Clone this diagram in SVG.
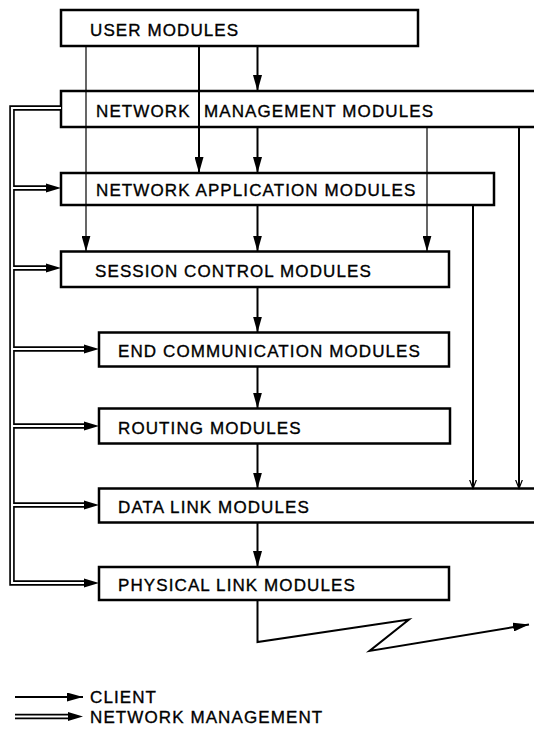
<svg xmlns="http://www.w3.org/2000/svg" width="534" height="729" viewBox="0 0 534 729">
  <style>
    .box { fill: #fff; stroke: #000; stroke-width: 2.5; }
    .lbl { font-family: "Liberation Sans", Arial, sans-serif; font-size: 17px; letter-spacing: 1.1px; fill: #000; stroke: #000; stroke-width: 0.35; }
    .cl { fill: none; stroke: #000; stroke-width: 2; }
    .thin { fill: none; stroke: #000; stroke-width: 1.2; }
    .nmk { fill: none; stroke: #000; stroke-width: 5.5; }
    .nmw { fill: none; stroke: #fff; stroke-width: 2.2; }
  </style>
  <defs>
    <marker id="ah" markerUnits="userSpaceOnUse" markerWidth="17" markerHeight="9" refX="16" refY="4.5" orient="auto">
      <path d="M0,0 L16,4.5 L0,9 z" fill="#000"/>
    </marker>
    <marker id="open" markerUnits="userSpaceOnUse" markerWidth="10" markerHeight="12" refX="9" refY="5" orient="auto">
      <path d="M0,1.5 L9,5 L0,8.5" fill="none" stroke="#000" stroke-width="1.2"/>
    </marker>
  </defs>
  <rect width="534" height="729" fill="#fff"/>

  <!-- module boxes -->
  <g id="user"><rect class="box" x="61" y="10" width="357" height="36"/><text class="lbl" x="90" y="36">USER MODULES</text></g>
  <g id="netmgmt"><rect class="box" x="61" y="91" width="489" height="36"/><text class="lbl" x="96" y="116.5">NETWORK</text><text class="lbl" x="204" y="116.5">MANAGEMENT MODULES</text></g>
  <g id="netapp"><rect class="box" x="61" y="173" width="433" height="32"/><text class="lbl" x="96" y="196">NETWORK APPLICATION MODULES</text></g>
  <g id="session"><rect class="box" x="61" y="251.5" width="388" height="35.5"/><text class="lbl" x="95" y="277">SESSION CONTROL MODULES</text></g>
  <g id="endcomm"><rect class="box" x="99" y="332.5" width="350" height="34"/><text class="lbl" x="118" y="357">END COMMUNICATION MODULES</text></g>
  <g id="routing"><rect class="box" x="99" y="408.5" width="351" height="35"/><text class="lbl" x="118" y="434">ROUTING MODULES</text></g>
  <g id="datalink"><rect class="box" x="99" y="488.5" width="451" height="34"/><text class="lbl" x="118" y="513">DATA LINK MODULES</text></g>
  <g id="physical"><rect class="box" x="99" y="567" width="350" height="33"/><text class="lbl" x="118" y="591">PHYSICAL LINK MODULES</text></g>

  <!-- connectors -->
  <g id="connectors">
    <!-- client flows -->
    <path class="thin" d="M86,46 V251.5" marker-end="url(#ah)"/>
    <path class="cl" d="M199,46 V173" marker-end="url(#ah)"/>
    <path class="cl" d="M257.5,46 V91" marker-end="url(#ah)"/>
    <path class="cl" d="M257.5,127 V173" marker-end="url(#ah)"/>
    <path class="cl" d="M257.5,205 V251.5" marker-end="url(#ah)"/>
    <path class="cl" d="M257.5,287 V332.5" marker-end="url(#ah)"/>
    <path class="cl" d="M257.5,366.5 V408.5" marker-end="url(#ah)"/>
    <path class="cl" d="M257.5,443.5 V488.5" marker-end="url(#ah)"/>
    <path class="cl" d="M257.5,522.5 V567" marker-end="url(#ah)"/>
    <path class="thin" d="M427,127 V251.5" marker-end="url(#ah)"/>
    <path class="cl" d="M473,205 V488.5" marker-end="url(#open)"/>
    <path class="cl" d="M519,127 V488.5" marker-end="url(#open)"/>
    <path class="cl" d="M257.5,600 V642 L409,619.5 L369.5,651 L529,624.5" stroke-linejoin="miter" marker-end="url(#ah)"/>

    <!-- network management flows (double lines) -->
    <path class="nmk" d="M61,108 H12 V583 H86"/>
    <path class="nmk" d="M12,188 H48 M12,268 H48 M12,349 H86 M12,426 H86 M12,505 H86"/>
    <path class="nmw" d="M61,108 H12 V583 H86"/>
    <path class="nmw" d="M12,188 H48 M12,268 H48 M12,349 H86 M12,426 H86 M12,505 H86"/>
    <path d="M46,183.5 L61,188 L46,192.5 z M46,263.5 L61,268 L46,272.5 z M84,344.5 L99,349 L84,353.5 z M84,421.5 L99,426 L84,430.5 z M84,500.5 L99,505 L84,509.5 z M84,578.5 L99,583 L84,587.5 z" fill="#000"/>
  </g>

  <!-- legend -->
  <g id="legend">
    <path class="cl" d="M15,697 H83" marker-end="url(#ah)"/>
    <text class="lbl" x="90" y="703">CLIENT</text>
    <path class="nmk" d="M15,716.5 H70"/>
    <path class="nmw" d="M15,716.5 H70"/>
    <path d="M68,712 L83,716.5 L68,721 z" fill="#000"/>
    <text class="lbl" x="90" y="722.5">NETWORK MANAGEMENT</text>
  </g>
</svg>
